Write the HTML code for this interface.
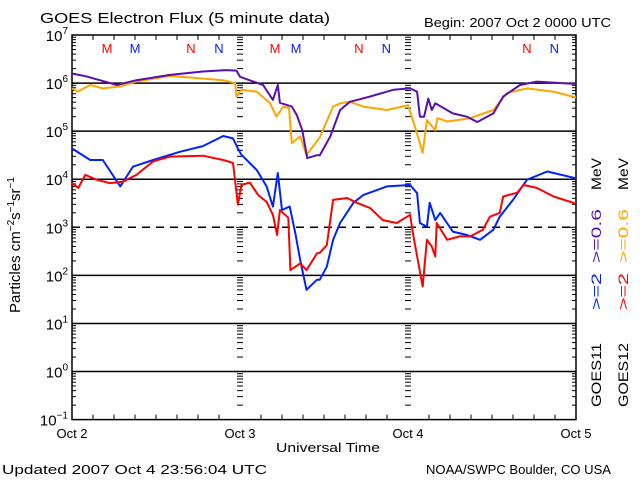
<!DOCTYPE html>
<html><head><meta charset="utf-8"><style>
body{margin:0;background:#fff;}
svg{display:block;font-family:"Liberation Sans",sans-serif;}
</style></head><body>
<svg id="chart" width="640" height="480">
<text x="40" y="23" font-size="15" textLength="290" lengthAdjust="spacingAndGlyphs">GOES Electron Flux (5 minute data)</text>
<text x="424" y="27" font-size="13" textLength="187" lengthAdjust="spacingAndGlyphs">Begin: 2007 Oct 2 0000 UTC</text>
<text x="2" y="474" font-size="13" textLength="265" lengthAdjust="spacingAndGlyphs">Updated 2007 Oct  4 23:56:04 UTC</text>
<text x="426" y="474" font-size="13" textLength="185" lengthAdjust="spacingAndGlyphs">NOAA/SWPC Boulder, CO USA</text>
<text x="276" y="452" font-size="13" textLength="104" lengthAdjust="spacingAndGlyphs">Universal Time</text>
<text transform="translate(20,245) rotate(-90)" font-size="15" text-anchor="middle">Particles cm<tspan dy="-6" font-size="10">−2</tspan><tspan dy="6">s</tspan><tspan dy="-6" font-size="10">−1</tspan><tspan dy="6">sr</tspan><tspan dy="-6" font-size="10">−1</tspan></text>
<g font-size="14">
<text transform="translate(601,407) rotate(-90)" fill="#000" textLength="64" lengthAdjust="spacingAndGlyphs">GOES11</text>
<text transform="translate(601,310) rotate(-90)" fill="#0022ff" textLength="37" lengthAdjust="spacingAndGlyphs">&gt;=2</text>
<text transform="translate(601,263) rotate(-90)" fill="#5a0fb0" textLength="54" lengthAdjust="spacingAndGlyphs">&gt;=0.6</text>
<text transform="translate(601,190) rotate(-90)" fill="#000" textLength="32" lengthAdjust="spacingAndGlyphs">MeV</text>
</g>
<g font-size="14">
<text transform="translate(628,407) rotate(-90)" fill="#000" textLength="64" lengthAdjust="spacingAndGlyphs">GOES12</text>
<text transform="translate(628,310) rotate(-90)" fill="#ff0000" textLength="37" lengthAdjust="spacingAndGlyphs">&gt;=2</text>
<text transform="translate(628,263) rotate(-90)" fill="#ffa500" textLength="54" lengthAdjust="spacingAndGlyphs">&gt;=0.6</text>
<text transform="translate(628,190) rotate(-90)" fill="#000" textLength="32" lengthAdjust="spacingAndGlyphs">MeV</text>
</g>
<g id="axes"></g>
<g id="series"></g>
</svg>
<script>
const dayLabels=["Oct 2","Oct 3","Oct 4","Oct 5"];
const yTickExps=[7,6,5,4,3,2,1,0,-1];
const mnLabels=["M","M","N","N","M","M","N","N","N","N"];
const mnHours=[5,9,17,21,29,32,41,44.9,65,68.9];
const mnColors=["#ff0000","#0022ff","#ff0000","#0022ff","#ff0000","#0022ff","#ff0000","#0022ff","#ff0000","#0022ff"];
const g11hiH=[0,2,6.4,9.2,14,18.7,22,23.5,24,25.9,27.3,28.7,29.4,29.7,31.4,32.1,32.9,33.6,35,35.4,36.9,38.3,39.7,42.6,45.9,48.3,49.3,49.7,50.3,50.9,51.4,51.9,54.4,56.4,57.9,60.2,61.6,64,66.4,68.8,72];
const g11hiV=[6.2,6.14,5.96,6.06,6.17,6.24,6.27,6.26,6.13,6.03,5.96,5.65,5.96,5.59,5.51,5.34,5.02,4.44,4.5,4.5,4.89,5.44,5.61,5.72,5.86,5.89,5.82,5.3,5.3,5.68,5.44,5.58,5.37,5.3,5.19,5.37,5.72,5.96,6.03,6.01,5.98];
const g12hiH=[0,0.8,2.6,4.4,6.9,9.2,14,21.6,23.3,23.5,24.2,26.4,28.3,29.2,30.2,31,31.4,32.6,33.5,35.4,37.3,38.3,39.7,41.6,45,48,48.7,49.7,50.1,50.7,51.9,52.2,53.6,56.9,60.2,62.1,65,68.8,72];
const g12hiV=[5.89,5.82,5.96,5.89,5.93,6.03,6.15,6.06,6.0,5.72,5.86,5.82,5.58,5.3,5.51,5.48,4.75,4.89,4.5,4.87,5.51,5.58,5.61,5.51,5.44,5.54,5.23,4.75,4.55,5.23,5.02,5.27,5.2,5.27,5.44,5.79,5.89,5.82,5.7];
const g11loH=[0,2.6,4.4,6.9,8.7,11.6,15.4,18.7,21.6,23,23.7,24.2,26.4,27.8,28.7,29.4,30,31.1,31.9,32.6,33.5,35,35.4,36.4,37.3,38.3,40.2,41.6,45,48.3,49.3,49.7,50.7,51.1,51.9,52.6,54.4,56.4,58.3,60.2,61.1,63,65,67.9,72];
const g11loV=[4.64,4.4,4.4,3.85,4.26,4.4,4.57,4.69,4.9,4.85,4.64,4.51,4.19,3.85,3.43,4.13,3.36,3.43,2.88,2.32,1.7,1.91,1.91,2.18,2.74,3.09,3.51,3.67,3.85,3.88,3.71,3.09,3.01,3.51,3.15,3.3,2.91,2.84,2.74,2.95,3.22,3.57,3.99,4.16,4.02];
const g12loH=[0,0.9,1.9,3.5,5.4,7.3,9.2,11.6,14,18.7,21.6,23,23.5,23.7,24.2,25.4,26.6,27.8,28.7,29.3,29.7,30.9,31.2,32.6,33.5,35,35.4,36.4,37.3,39.3,40.7,42.6,44.4,46.4,48.3,48.7,49.4,50.1,50.7,51.4,51.9,52.1,53.6,55.4,56.9,58.7,59.7,61.1,61.6,63.6,64.5,66.4,68.8,72];
const g12loV=[3.92,3.82,4.09,3.99,3.92,3.95,4.09,4.37,4.47,4.49,4.4,4.34,3.72,3.47,3.88,3.93,3.67,3.53,3.26,2.84,3.36,3.2,2.11,2.25,2.11,2.46,2.47,2.63,3.57,3.61,3.51,3.4,3.15,3.09,3.26,2.88,2.32,1.77,2.74,2.6,2.39,3.09,2.74,2.81,2.81,2.95,3.22,3.3,3.64,3.72,3.88,3.82,3.64,3.49];

const L=72,R=576,T=35,B=419.6;
const xS=h=>L+(h/72)*(R-L);
const yS=v=>T+(7-v)*(B-T)/8;
const NS="http://www.w3.org/2000/svg";
const axes=document.getElementById("axes"),ser=document.getElementById("series");
function mk(tag,attrs,parent){const e=document.createElementNS(NS,tag);for(const k in attrs)e.setAttribute(k,attrs[k]);parent.appendChild(e);return e;}

yTickExps.forEach(e=>{
  const y=yS(e);
  if(e<7&&e>-1){const l=mk("line",{x1:L,x2:R,y1:y,y2:y,stroke:"#000","stroke-width":1.5},axes);
    if(e===3)l.setAttribute("stroke-dasharray","8,6");
    
    }
  const t=mk("text",{x:L-4,y:y+6,"font-size":15,"text-anchor":"end"},axes);
  t.textContent="10";
  const s=mk("tspan",{dy:-7,"font-size":10},t);s.textContent=e<0?"−1":String(e);
  
  
  if(e>-1){for(let m=2;m<=9;m++){const yy=yS(e-1+Math.log10(m));
    [[L,L+4],[R-4,R],[xS(24)-3,xS(24)+3],[xS(48)-3,xS(48)+3]].forEach(p=>mk("line",{x1:p[0],x2:p[1],y1:yy,y2:yy,stroke:"#000","stroke-width":1},axes));}}
  [[L,L+8],[R-8,R],[xS(24)-4,xS(24)+4],[xS(48)-4,xS(48)+4]].forEach(p=>mk("line",{x1:p[0],x2:p[1],y1:y,y2:y,stroke:"#000","stroke-width":1},axes));
});
for(let h=3;h<72;h+=3){const x=xS(h);const len=h%24===0?0:5;
  mk("line",{x1:x,x2:x,y1:B,y2:B-len,stroke:"#000"},axes);mk("line",{x1:x,x2:x,y1:T,y2:T+len,stroke:"#000"},axes);}
dayLabels.forEach((d,i)=>{const t=mk("text",{x:xS(i*24),y:438,"font-size":13,"text-anchor":"middle"},axes);t.textContent=d;
  
  });
const frame=mk("rect",{x:L,y:T,width:R-L,height:B-T,fill:"none",stroke:"#000","stroke-width":1.5},axes);


mnLabels.forEach((m,i)=>{const t=mk("text",{x:xS(mnHours[i]),y:53,"font-size":13,"text-anchor":"middle",fill:mnColors[i]},axes);t.textContent=m;
  
  });

function line(H,V,color,name){
  const p=mk("polyline",{points:H.map((h,i)=>xS(h).toFixed(1)+","+yS(V[i]).toFixed(1)).join(" "),fill:"none",stroke:color,"stroke-width":2,"stroke-linejoin":"round"},ser);
  
  
}
line(g12hiH,g12hiV,"#ffa500","series-goes12-0.6mev");
line(g11hiH,g11hiV,"#5a0fb0","series-goes11-0.6mev");
line(g11loH,g11loV,"#0022ff","series-goes11-2mev");
line(g12loH,g12loV,"#ff0000","series-goes12-2mev");
</script>
</body></html>
